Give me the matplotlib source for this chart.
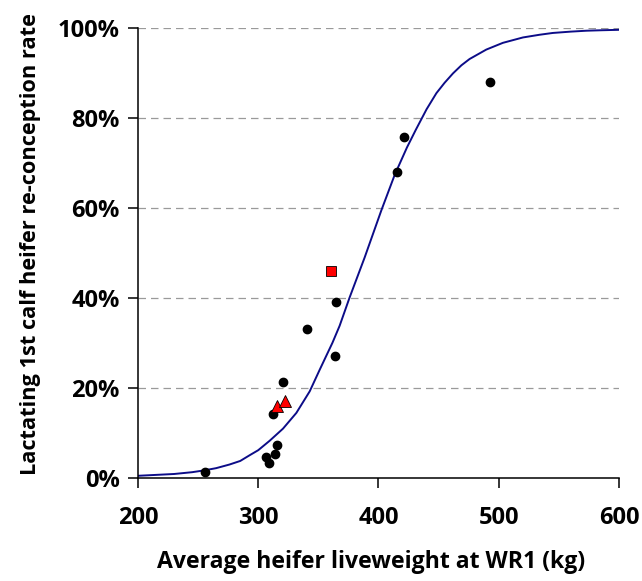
import matplotlib.pyplot as plt
from matplotlib.ticker import PercentFormatter

# observed herds (black circles)
obs_x = [255.5, 306.2, 308.9, 313.9, 315.6, 312.0, 320.6, 340.5, 363.8, 364.4, 415.7, 421.0, 492.5]
obs_y = [1.2, 4.5, 3.2, 5.2, 7.3, 14.1, 21.2, 33.1, 27.1, 39.0, 68.0, 75.9, 88.1]

# red triangles and red square
tri_x = [315.6, 322.6]
tri_y = [16.0, 17.1]
sq_x = [360.8]
sq_y = [46.1]

# fitted response curve
curve_x = [200, 215, 230, 245, 255, 265, 276, 285, 293, 300, 309.5, 320.6, 331.7,
           342.8, 351.1, 361.7, 367.7, 376, 388.5, 402.4, 413.5, 423.7, 431, 440,
           448.2, 455, 462, 469, 475.8, 489.7, 503.5, 520.2, 534, 545, 560, 573, 585, 600]
curve_y = [0.4, 0.6, 0.8, 1.2, 1.6, 2.1, 2.9, 3.7, 5.0, 6.1, 8.2, 10.9, 14.4,
           19.2, 24.0, 30.0, 33.8, 40.1, 49.0, 59.5, 67.4, 73.5, 77.4, 82.0,
           85.6, 87.9, 90.0, 91.8, 93.2, 95.3, 96.8, 98.0, 98.6, 99.0, 99.3, 99.5, 99.6, 99.7]

plt.rcParams['font.family'] = ['Open Sans', 'DejaVu Sans']

fig = plt.figure(figsize=(6.42, 5.81), dpi=100)
ax = fig.add_axes([0.215, 0.178, 0.749, 0.773])

for g in [20, 40, 60, 80, 100]:
    ax.axhline(g, color='#9a9a9a', lw=0.9, dashes=(6, 4), zorder=0)

ax.plot(curve_x, curve_y, color='#0c0c88', lw=1.4, zorder=2)
ax.plot(obs_x, obs_y, 'o', color='black', ms=6, zorder=3)
ax.plot(tri_x, tri_y, '^', color='red', mec='black', mew=0.6, ms=8, zorder=4)
ax.plot(sq_x, sq_y, 's', color='red', mec='black', mew=0.6, ms=6.5, zorder=4)

ax.set_xlim(200, 600)
ax.set_ylim(0, 100)
ax.set_xticks([200, 300, 400, 500, 600])
ax.set_yticks([0, 20, 40, 60, 80, 100])
ax.yaxis.set_major_formatter(PercentFormatter(decimals=0))
ax.tick_params(labelsize=17, width=1.1, length=7.2)
ax.tick_params(axis='y', pad=6)
ax.tick_params(axis='x', pad=13)
for lab in ax.get_xticklabels() + ax.get_yticklabels():
    lab.set_fontweight('bold')

ax.spines['top'].set_visible(False)
ax.spines['right'].set_visible(False)
ax.spines['left'].set_linewidth(1.1)
ax.spines['bottom'].set_linewidth(1.1)

ax.set_xlabel('Average heifer liveweight at WR1 (kg)', fontsize=16.6, fontweight='bold')
ax.set_ylabel('Lactating 1st calf heifer re-conception rate', fontsize=15.7, fontweight='bold')
ax.xaxis.set_label_coords(0.484, -0.162)
ax.yaxis.set_label_coords(-0.201, 0.521)

fig.savefig('out.png', dpi=100)
